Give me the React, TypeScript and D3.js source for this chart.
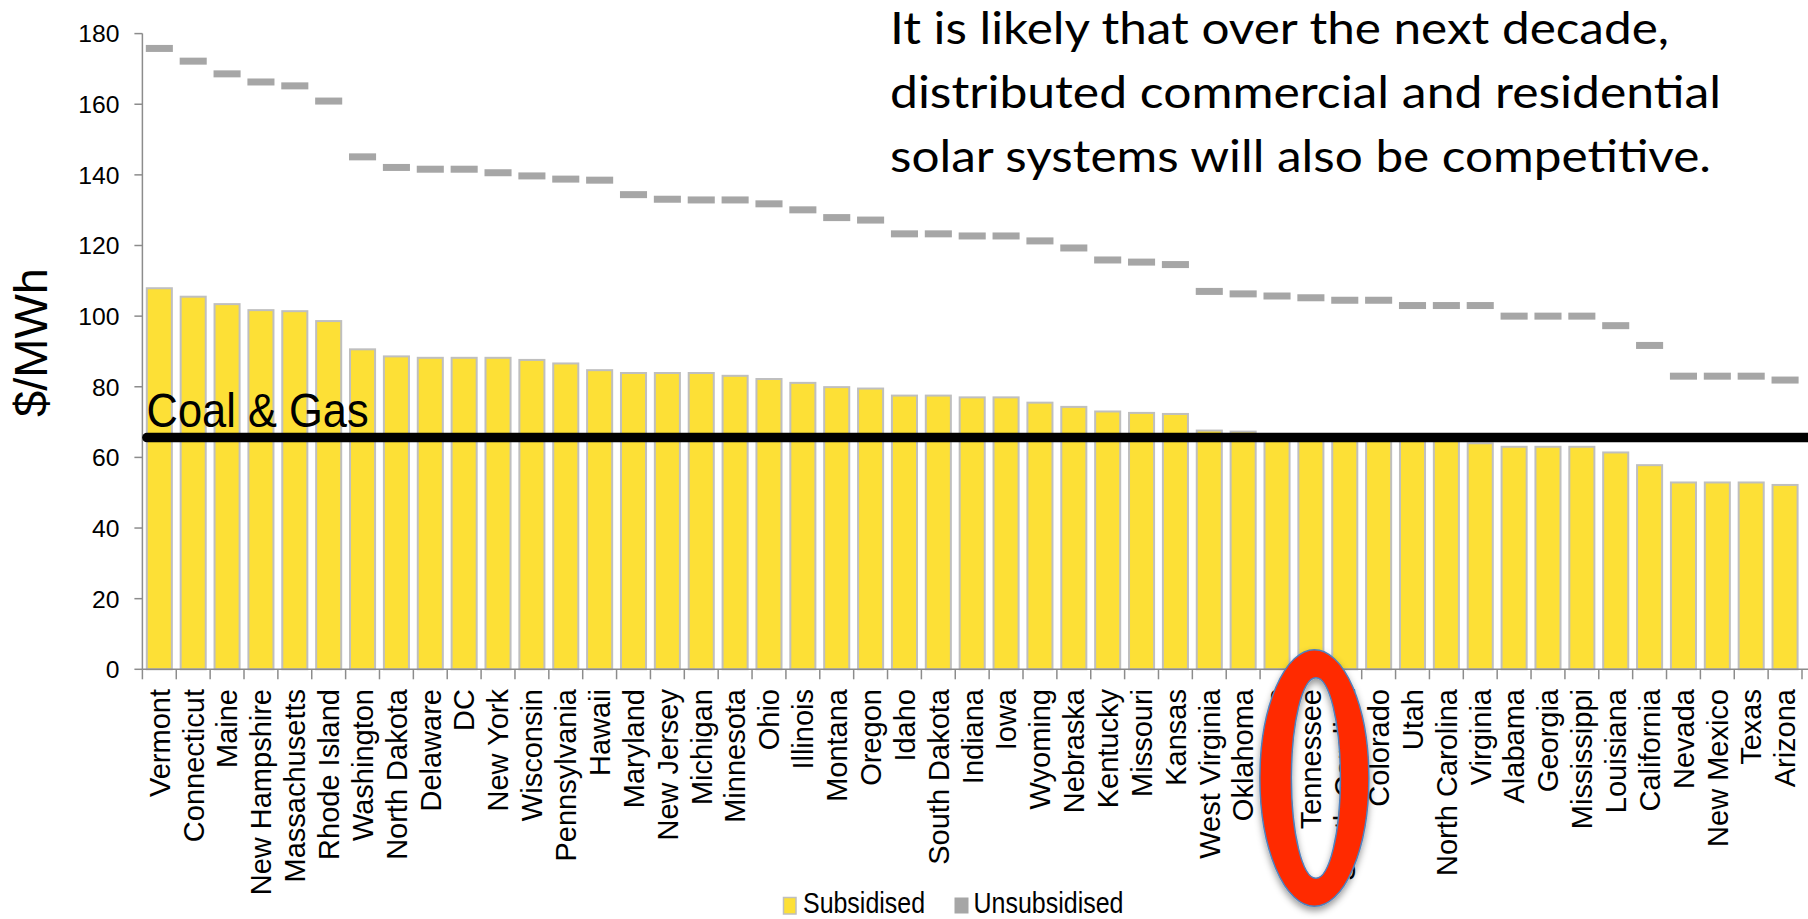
import React from "react";
import * as d3 from "d3";

// Levelised cost of solar by state ($/MWh)
const states: string[] = [
  "Vermont", "Connecticut", "Maine", "New Hampshire", "Massachusetts", "Rhode Island",
  "Washington", "North Dakota", "Delaware", "DC", "New York", "Wisconsin", "Pennsylvania",
  "Hawaii", "Maryland", "New Jersey", "Michigan", "Minnesota", "Ohio", "Illinois", "Montana",
  "Oregon", "Idaho", "South Dakota", "Indiana", "Iowa", "Wyoming", "Nebraska", "Kentucky",
  "Missouri", "Kansas", "West Virginia", "Oklahoma", "Arkansas", "Tennessee", "South Carolina",
  "Colorado", "Utah", "North Carolina", "Virginia", "Alabama", "Georgia", "Mississippi",
  "Louisiana", "California", "Nevada", "New Mexico", "Texas", "Arizona",
];

const subsidised: number[] = [
  107.9, 105.5, 103.4, 101.7, 101.4, 98.6, 90.6, 88.6, 88.2, 88.2, 88.2, 87.6, 86.6,
  84.7, 83.9, 83.9, 83.9, 83.1, 82.2, 81.1, 79.9, 79.5, 77.5, 77.5, 77.0, 77.0, 75.5,
  74.3, 73.0, 72.6, 72.3, 67.6, 67.3, 66.6, 66.3, 66.0, 65.7, 65.4, 65.0, 64.0, 63.0,
  63.0, 63.0, 61.4, 57.8, 52.9, 52.9, 52.9, 52.2,
];

const unsubsidised: number[] = [
  175.8, 172.2, 168.6, 166.3, 165.2, 160.9, 145.1, 142.1, 141.6, 141.6, 140.6, 139.7, 138.8,
  138.5, 134.4, 133.1, 132.9, 132.9, 131.8, 130.1, 127.9, 127.2, 123.3, 123.3, 122.7, 122.7,
  121.3, 119.3, 115.9, 115.3, 114.6, 107.0, 106.3, 105.7, 105.2, 104.5, 104.5, 103.0, 103.0,
  103.0, 100.0, 100.0, 100.0, 97.3, 91.7, 83.0, 83.0, 83.0, 81.9,
];

const yTicks: number[] = [0, 20, 40, 60, 80, 100, 120, 140, 160, 180];
const coalAndGas = 65.6;
const highlighted = "Tennessee";

const noteLines: string[] = [
  "It is likely that over the next decade,",
  "distributed commercial and residential",
  "solar systems will also be competitive.",
];
const noteWidths: number[] = [779, 831, 821];

const legendItems: string[] = ["Subsidised", "Unsubsidised"];

const W = 1808;
const H = 919;
const X0 = 142.4;
const X1 = 1802;
const Y0 = 669.3;
const Y1 = 33.6;

const YELLOW = "#fde036";
const BAR_EDGE = "#bfbfbf";
const DASH = "#a6a6a6";
const AXIS = "#8c8c8c";
const ARIAL = "'Liberation Sans', Arial, sans-serif";

function ellipsePath(cx: number, cy: number, rx: number, ry: number): string {
  return `M${cx - rx},${cy} a${rx},${ry} 0 1,0 ${2 * rx},0 a${rx},${ry} 0 1,0 ${-2 * rx},0 Z`;
}

export default function App() {
  const x = d3.scaleBand<string>().domain(states).range([X0, X1]).paddingInner(0.26).paddingOuter(0.13);
  const y = d3.scaleLinear().domain([0, 180]).range([Y0, Y1]);
  const bw = x.bandwidth();
  const step = x.step();
  const center = (s: string) => (x(s) as number) + bw / 2;

  const boundaries = states.map((s) => center(s) - step / 2).concat([center(states[states.length - 1]) + step / 2]);

  const hx = center(highlighted);
  const ring = ellipsePath(hx + 3.5, 778, 54.5, 128.3) + " " + ellipsePath(hx + 5, 778, 24.5, 100.3);

  return (
    <svg
      width={W}
      height={H}
      viewBox={`0 0 ${W} ${H}`}
      style={{ position: "absolute", left: 0, top: 0, display: "block", background: "#fff" }}
    >
      <defs>
        <filter id="ringShadow" x="-30%" y="-20%" width="160%" height="140%">
          <feDropShadow dx="0" dy="4" stdDeviation="3.5" floodColor="#000" floodOpacity="0.4" />
        </filter>
      </defs>

      {/* subsidised bars */}
      {states.map((s, i) => (
        <rect
          key={"b" + s}
          x={x(s)}
          y={y(subsidised[i])}
          width={bw}
          height={Y0 - y(subsidised[i])}
          fill={YELLOW}
          stroke={BAR_EDGE}
          strokeWidth={2}
        />
      ))}

      {/* unsubsidised markers */}
      {states.map((s, i) => (
        <rect
          key={"u" + s}
          x={center(s) - (bw + 2) / 2}
          y={y(unsubsidised[i]) - 3.5}
          width={bw + 2}
          height={7}
          fill={DASH}
        />
      ))}

      {/* y axis */}
      <line x1={X0} x2={X0} y1={Y1} y2={Y0} stroke={AXIS} strokeWidth={1.5} />
      {yTicks.map((t) => (
        <g key={"yt" + t}>
          <line x1={X0 - 8} x2={X0} y1={y(t)} y2={y(t)} stroke={AXIS} strokeWidth={1.5} />
          <text
            x={119.5}
            y={y(t)}
            dy="0.36em"
            textAnchor="end"
            fontFamily={ARIAL}
            fontSize={24.7}
            fill="#000"
          >
            {t}
          </text>
        </g>
      ))}

      {/* x axis */}
      <line x1={X0} x2={W} y1={Y0} y2={Y0} stroke={AXIS} strokeWidth={1.5} />
      {boundaries.map((bx, i) => (
        <line key={"xt" + i} x1={bx} x2={bx} y1={Y0} y2={Y0 + 10} stroke={AXIS} strokeWidth={1.5} />
      ))}
      {states.map((s) => (
        <text
          key={"xl" + s}
          transform={`translate(${center(s) + 10.3},689) rotate(-90)`}
          textAnchor="end"
          fontFamily={ARIAL}
          fontSize={29}
          fill="#000"
        >
          {s}
        </text>
      ))}

      {/* y axis title */}
      <text
        transform={`translate(47,342.5) rotate(-90)`}
        textAnchor="middle"
        fontFamily={ARIAL}
        fontSize={46}
        textLength={149}
        lengthAdjust="spacingAndGlyphs"
        fill="#000"
      >
        $/MWh
      </text>

      {/* coal & gas reference line */}
      <line
        x1={X0 + 4.5}
        x2={W + 10}
        y1={y(coalAndGas)}
        y2={y(coalAndGas)}
        stroke="#000"
        strokeWidth={9.5}
        strokeLinecap="round"
      />
      <text
        x={146.6}
        y={426.7}
        fontFamily={ARIAL}
        fontSize={49}
        textLength={222}
        lengthAdjust="spacingAndGlyphs"
        fill="#000"
      >
        Coal &amp; Gas
      </text>

      {/* note */}
      {noteLines.map((line, i) => (
        <text
          key={"n" + i}
          x={890}
          y={44 + i * 63.85}
          fontFamily="Lato, 'Open Sans', sans-serif"
          fontSize={45}
          textLength={noteWidths[i]}
          lengthAdjust="spacingAndGlyphs"
          fill="#000"
        >
          {line}
        </text>
      ))}

      {/* legend */}
      <rect x={783.5} y={897.5} width={12.5} height={16.5} fill={YELLOW} stroke={BAR_EDGE} strokeWidth={1.5} />
      <text
        x={803}
        y={912.5}
        fontFamily={ARIAL}
        fontSize={29}
        textLength={122}
        lengthAdjust="spacingAndGlyphs"
        fill="#000"
      >
        {legendItems[0]}
      </text>
      <rect x={954.5} y={897.5} width={14} height={16} fill={DASH} />
      <text
        x={973.5}
        y={912.5}
        fontFamily={ARIAL}
        fontSize={29}
        textLength={150}
        lengthAdjust="spacingAndGlyphs"
        fill="#000"
      >
        {legendItems[1]}
      </text>

      {/* highlight ring */}
      <path
        d={ring}
        fill="#ff2a00"
        fillRule="evenodd"
        stroke="#4f81bd"
        strokeWidth={1.5}
        filter="url(#ringShadow)"
      />
    </svg>
  );
}
